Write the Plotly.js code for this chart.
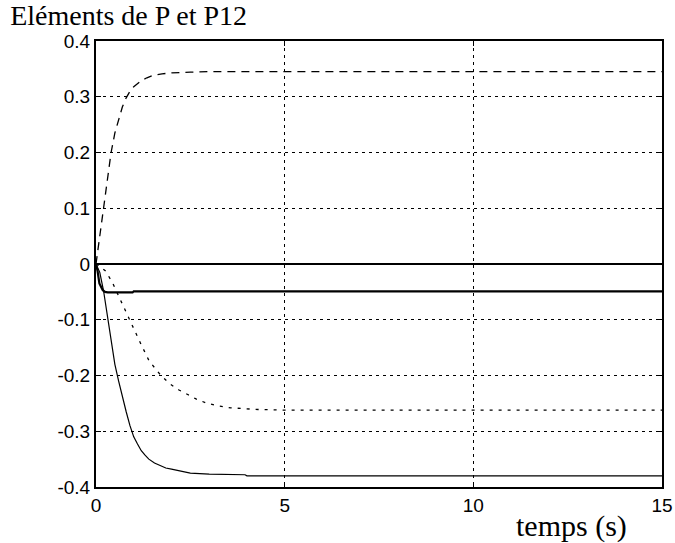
<!DOCTYPE html>
<html>
<head>
<meta charset="utf-8">
<script src="https://cdn.plot.ly/plotly-3.0.1.min.js"></script>
<style>html,body{margin:0;padding:0;background:#fff;}#chart{width:675px;height:543px;}</style>
</head>
<body>
<div id="chart"></div>
<script>
// Dashed curve (rises to ~0.345)
const tDashed = [0, 0.1, 0.2, 0.3, 0.4, 0.5, 0.6, 0.7, 0.8, 0.9, 1.0, 1.1, 1.2, 1.35, 1.5, 1.75, 2.0, 2.5, 3.0, 15];
const yDashed = [0, 0.05, 0.1, 0.15, 0.2, 0.235, 0.26, 0.282, 0.298, 0.31, 0.318, 0.324, 0.329, 0.334, 0.338, 0.341, 0.343, 0.344, 0.345, 0.345];

// Thick solid curve (settles near -0.049)
const tThick = [0, 0.04, 0.09, 0.14, 0.18, 0.24, 0.31, 0.97, 1.0, 15];
const yThick = [0, -0.012, -0.035, -0.043, -0.047, -0.050, -0.051, -0.051, -0.049, -0.049];

// Constant zero curve
const tZero = [0, 15];
const yZero = [0, 0];

// Dotted curve (settles near -0.262)
const tDotted = [0, 0.1, 0.26, 0.44, 0.7, 0.84, 0.97, 1.2, 1.41, 1.72, 1.98, 2.2, 2.43, 2.65, 2.91, 3.2, 3.57, 4.3, 5, 6, 15];
const yDotted = [0, -0.004, -0.013, -0.034, -0.072, -0.093, -0.111, -0.145, -0.174, -0.2, -0.216, -0.226, -0.234, -0.242, -0.249, -0.254, -0.258, -0.261, -0.262, -0.262, -0.262];

// Thin solid curve (settles near -0.38)
const tThin = [0, 0.1, 0.2, 0.3, 0.4, 0.5, 0.6, 0.7, 0.8, 0.9, 1.0, 1.1, 1.2, 1.3, 1.4, 1.55, 1.7, 1.85, 2.0, 2.25, 2.5, 3.0, 3.5, 3.95, 4.0, 15];
const yThin = [0, -0.015, -0.048, -0.095, -0.14, -0.18, -0.21, -0.24, -0.265, -0.29, -0.31, -0.323, -0.335, -0.343, -0.35, -0.357, -0.362, -0.366, -0.368, -0.372, -0.375, -0.377, -0.378, -0.378, -0.38, -0.38];

const xTicks = [0, 5, 10, 15];
const yTicks = [-0.4, -0.3, -0.2, -0.1, 0, 0.1, 0.2, 0.3, 0.4];
const yTickLabels = ['-0.4', '-0.3', '-0.2', '-0.1', '0', '0.1', '0.2', '0.3', '0.4'];

const traces = [
  {x: tZero, y: yZero, mode: 'lines', line: {color: '#000', width: 2}},
  {x: tDashed, y: yDashed, mode: 'lines', line: {color: '#000', width: 1.3, dash: '8px,6px'}},
  {x: tDotted, y: yDotted, mode: 'lines', line: {color: '#000', width: 1.3, dash: '3px,6px'}},
  {x: tThin, y: yThin, mode: 'lines', line: {color: '#000', width: 1.2}},
  {x: tThick, y: yThick, mode: 'lines', line: {color: '#000', width: 2.2}}
];

const layout = {
  width: 675, height: 543,
  margin: {l: 96, r: 13, t: 41, b: 56},
  paper_bgcolor: '#fff', plot_bgcolor: '#fff',
  showlegend: false,
  title: {
    text: 'Eléments de P et P12',
    x: 0.015, xanchor: 'left', xref: 'container',
    y: 0.99, yanchor: 'top', yref: 'container',
    font: {family: 'Liberation Serif, Times New Roman, serif', size: 28, color: '#000'}
  },
  xaxis: {
    range: [0, 15], tickvals: xTicks, ticktext: xTicks.map(String),
    showgrid: true, gridcolor: '#000', gridwidth: 1, griddash: '3px,4px',
    zeroline: false, showline: true, linecolor: '#000', linewidth: 2, mirror: 'ticks',
    ticks: 'inside', ticklen: 5, tickcolor: '#000',
    tickfont: {family: 'Liberation Sans, Arial, sans-serif', size: 19, color: '#000'}
  },
  yaxis: {
    range: [-0.4, 0.4], tickvals: yTicks, ticktext: yTickLabels,
    showgrid: true, gridcolor: '#000', gridwidth: 1, griddash: '3px,4px',
    zeroline: false, showline: true, linecolor: '#000', linewidth: 2, mirror: 'ticks',
    ticks: 'inside', ticklen: 5, tickcolor: '#000',
    tickfont: {family: 'Liberation Sans, Arial, sans-serif', size: 19, color: '#000'}
  },
  annotations: [{
    text: 'temps (s)', xref: 'paper', yref: 'paper', x: 0.84, y: -0.045,
    xanchor: 'center', yanchor: 'top', showarrow: false,
    font: {family: 'Liberation Serif, Times New Roman, serif', size: 30, color: '#000'}
  }]
};

Plotly.newPlot('chart', traces, layout, {displayModeBar: false, staticPlot: true});
</script>
</body>
</html>
